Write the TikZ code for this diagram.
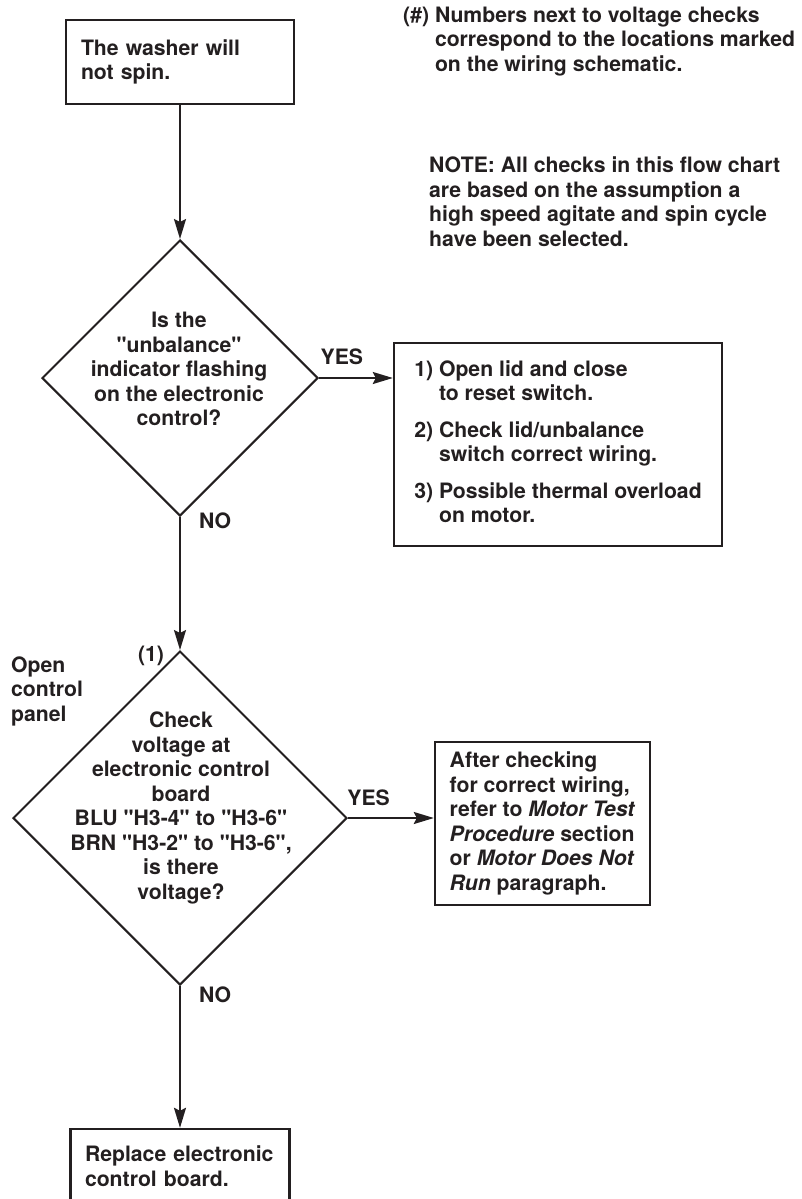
\documentclass[tikz,border=0pt]{standalone}
\usepackage{fontspec}
\setmainfont{TeX Gyre Heros}[Ligatures=TeXOff]
\usepackage{xcolor}
\definecolor{ink}{HTML}{231F20}
\usetikzlibrary{arrows.meta, shapes.geometric, positioning}

\begin{document}
\begin{tikzpicture}[x=1pt, y=-1pt, >={Stealth[length=20pt, width=12pt, inset=3pt]},
  font=\bfseries\fontsize{21.2}{24.5}\selectfont,
  stepbox/.style={draw=ink, line width=2.4pt, inner sep=0pt, text=ink},
  decision/.style={draw=ink, line width=2pt, shape=diamond, aspect=1, inner sep=0pt},
  note/.style={inner sep=0pt, text=ink},
  flow/.style={->, draw=ink, line width=2pt}]
  \useasboundingbox (0,0) rectangle (801,1199);
  \fill[white] (0,0) rectangle (801,1199);

  % notes at top right
  \node[note, anchor=north west] (hashnote) at (403,5)
    {\begin{tabular}{@{}l@{ }l@{}}
      (\#) & Numbers next to voltage checks\\
           & correspond to the locations marked\\
           & on the wiring schematic.
    \end{tabular}};
  \node[note, anchor=north west, align=left] (cyclenote) at (429,157)
    {NOTE: All checks in this flow chart\\are based on the assumption a\\high speed agitate and spin cycle\\have been selected.};

  % boxes
  \node[stepbox, minimum width=228pt, minimum height=84pt, text width=198pt,
        align=left] (start) at (180,62) {The washer will\\not spin.};
  \node[stepbox, minimum width=328pt, minimum height=203pt] (reset) at (558,444.5)
    {\begin{tabular}{@{}l@{ }l@{}}
      1) & Open lid and close\\
         & to reset switch.\\[12pt]
      2) & Check lid/unbalance\\
         & switch correct wiring.\\[12pt]
      3) & Possible thermal overload\\
         & on motor.
    \end{tabular}};
  \node[stepbox, minimum width=215pt, minimum height=163pt, align=left]
    (motor) at (542.5,823.5)
    {After checking\\for correct wiring,\\refer to \textit{Motor Test}\\\textit{Procedure} section\\or \textit{Motor Does Not}\\\textit{Run} paragraph.};
  \node[stepbox, minimum width=219pt, minimum height=74pt, text width=190pt,
        align=left] (board) at (180,1166) {Replace electronic\\control board.};

  % decisions
  \node[decision, minimum width=276pt, minimum height=276pt] (unbal) at (180,378) {};
  \node[note, align=center] (unbaltext) at (179,369)
    {Is the\\"unbalance"\\indicator flashing\\on the electronic\\control?};
  \node[decision, minimum width=334pt, minimum height=334pt] (volt) at (180,818) {};
  \node[note, align=center] (volttext) at (181,808)
    {Check\\voltage at\\electronic control\\board\\BLU "H3-4" to "H3-6"\\BRN "H3-2" to "H3-6",\\is there\\voltage?};

  \node[note] (point1) at (151,656) {(1)};
  \node[note, anchor=west, align=left] (panel) at (11,691) {Open\\control\\panel};

  % connectors
  \draw[flow] (start.south) -- (unbal.north);
  \draw[flow] (unbal.east) -- node[note, above=12pt, pos=0.31] (yes1) {YES} (unbal.east -| reset.west);
  \draw[flow] (unbal.south) -- node[note, right=18pt, pos=0.03] (no1) {NO} (volt.north);
  \draw[flow] (volt.east) -- node[note, above=11pt, pos=0.24] (yes2) {YES} (volt.east -| motor.west);
  \draw[flow] (volt.south) -- node[note, right=18pt, pos=0.06] (no2) {NO} (board.north);
\end{tikzpicture}
\end{document}
